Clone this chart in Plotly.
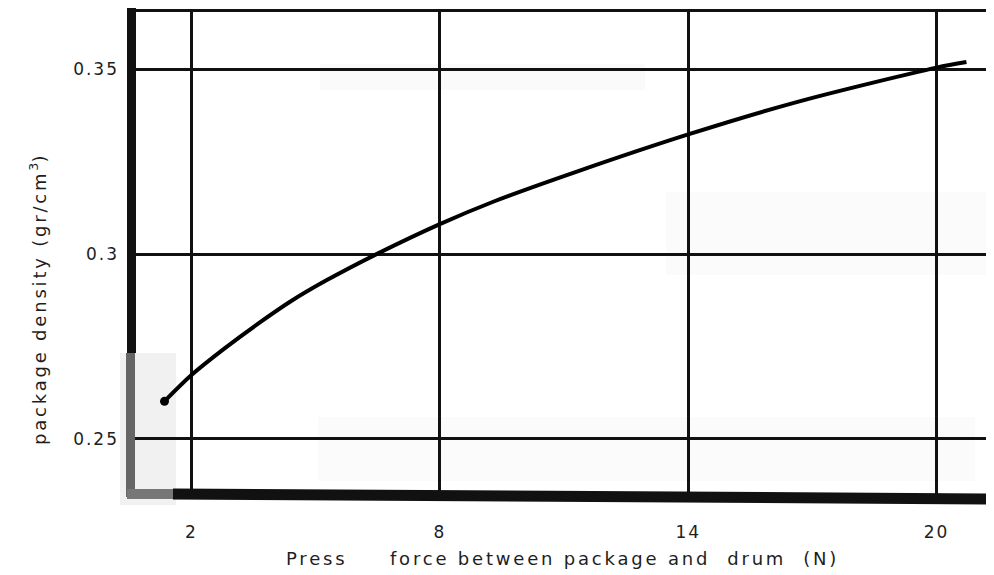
import plotly.graph_objects as go

# Data
force = [1.35, 2.0, 2.81, 3.62, 4.43, 5.25, 6.46, 8.0, 9.32, 11.38, 14.0, 16.73, 20.0, 20.72]
density = [0.2601, 0.2672, 0.2745, 0.2812, 0.2874, 0.2928, 0.2999, 0.3081, 0.3143,
           0.3226, 0.3324, 0.3415, 0.3505, 0.3520]
x_ticks = [2, 8, 14, 20]
x_tick_labels = ["2", "8", "14", "20"]
y_ticks = [0.25, 0.3, 0.35]
y_tick_labels = ["0.25", "0.3", "0.35"]

FONT = "DejaVu Sans"
NB = "\u00a0"
INK = "#1e1e1e"


def spaced(t, ls=2.8):
    return f"<span style='letter-spacing:{ls}px'>{t}</span>"


fig = go.Figure()
fig.add_trace(go.Scatter(
    x=force, y=density, mode="lines",
    line=dict(color="black", width=4, shape="spline", smoothing=0.8),
    hoverinfo="skip", showlegend=False,
))
fig.add_trace(go.Scatter(
    x=force[:1], y=density[:1], mode="markers",
    marker=dict(color="black", size=9),
    hoverinfo="skip", showlegend=False,
))

# page has an 8px body margin; lay out in screen coordinates minus that
OFF = 8
W, H = 994 - OFF, 575 - OFF
L, R, T, B = 132 - OFF, 0, 10 - OFF, 81
pw, ph = W - L - R, H - T - B


def px(xs):
    return (xs - OFF - L) / pw


def py(ys):
    return (H - B - (ys - OFF)) / ph


def patch(x0, x1, y0, y1, color):
    return dict(type="rect", xref="paper", yref="paper", x0=px(x0), x1=px(x1), y0=py(y1), y1=py(y0),
                fillcolor=color, line=dict(width=0), layer="below")


shapes = [
    # faint scan patches
    patch(320, 645, 64, 90, "#fafafa"),
    patch(666, 1000, 192, 275, "#fbfbfb"),
    patch(318, 975, 417, 481, "#fbfbfb"),
    patch(120, 176, 353, 505, "#f1f1f1"),
    # left axis (black upper, gray lower)
    dict(type="line", xref="paper", yref="paper", x0=px(131.5), x1=px(131.5), y0=py(353), y1=py(8),
         line=dict(color="#111", width=9)),
    dict(type="line", xref="paper", yref="paper", x0=px(130.5), x1=px(130.5), y0=py(497), y1=py(353),
         line=dict(color="#666", width=9)),
    # bottom axis (gray left, black right)
    dict(type="line", xref="paper", yref="paper", x0=px(127), x1=px(174), y0=py(494), y1=py(494),
         line=dict(color="#777", width=10)),
    dict(type="line", xref="paper", yref="paper", x0=px(173), x1=px(1000), y0=py(494), y1=py(499),
         line=dict(color="#111", width=11)),
    # top border
    dict(type="line", xref="paper", yref="paper", x0=px(128), x1=px(1000), y0=py(10.5), y1=py(10.5),
         line=dict(color="#111", width=3)),
]

fig.update_layout(
    width=W, height=H,
    margin=dict(l=L, r=R, t=T, b=B, pad=0),
    paper_bgcolor="white", plot_bgcolor="white",
    font=dict(family=FONT, size=17, color=INK),
    shapes=shapes,
    xaxis=dict(
        range=[0.565, 21.386], tickmode="array", tickvals=x_ticks,
        ticktext=[spaced(t, 2) for t in x_tick_labels],
        showgrid=True, gridcolor="#111", gridwidth=2.5, zeroline=False, showline=False,
        ticks="", ticklabelstandoff=26, tickfont=dict(family=FONT, size=17, color=INK),
        fixedrange=True,
    ),
    yaxis=dict(
        range=[0.235, 0.3661], tickmode="array", tickvals=y_ticks,
        ticktext=[spaced(t, 2) for t in y_tick_labels],
        showgrid=True, gridcolor="#111", gridwidth=2.5, zeroline=False, showline=False,
        ticks="", ticklabelstandoff=12, tickfont=dict(family=FONT, size=17, color=INK),
        fixedrange=True,
    ),
    annotations=[
        dict(text=spaced("package density (gr/cm") + "<sup>3</sup>" + spaced(")"),
             xref="paper", yref="paper",
             x=px(38), y=py(299), textangle=-90, showarrow=False,
             font=dict(family=FONT, size=18, color=INK), xanchor="center", yanchor="middle"),
        dict(text=spaced("Press" + NB * 5 + "force between package and" + NB * 2 + "drum" + NB * 2 + "(N)"),
             xref="paper", yref="paper", x=px(562), y=py(558), showarrow=False,
             font=dict(family=FONT, size=18, color=INK), xanchor="center", yanchor="middle"),
    ],
)

fig.write_html("out.html")
